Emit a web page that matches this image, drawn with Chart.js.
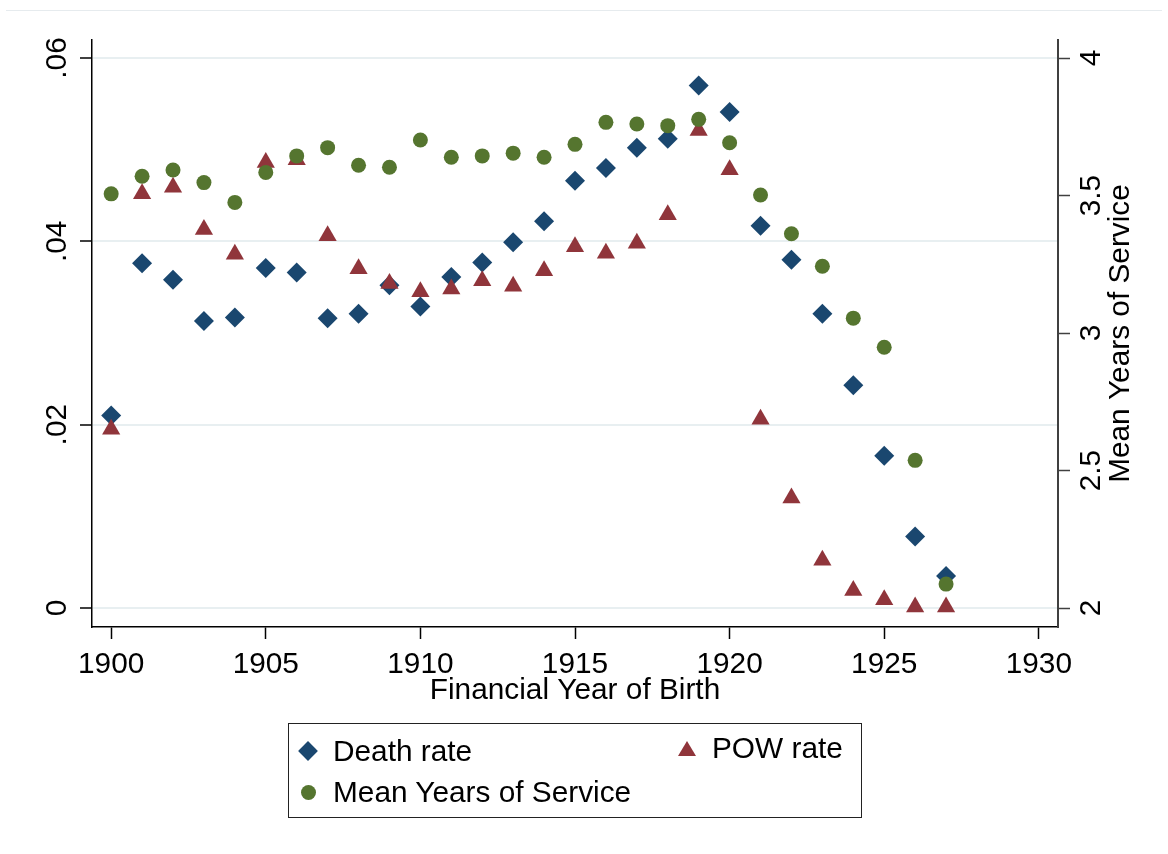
<!DOCTYPE html>
<html>
<head>
<meta charset="utf-8">
<title>Death rate, POW rate and Mean Years of Service by Financial Year of Birth</title>
<script src="https://cdn.jsdelivr.net/npm/chart.js@4.4.1/dist/chart.umd.min.js"></script>
<style>
  html, body { margin: 0; padding: 0; background: #fff; }
  #wrap { position: relative; width: 1168px; height: 854px; overflow: hidden; }
  #topline { position: absolute; left: 6px; right: 6px; top: 10px; border-top: 1px solid #e6ebee; }
  #chart { position: absolute; left: 0; top: 0; }
  #legend {
    position: absolute; left: 288px; top: 723px; width: 572px; height: 93px;
    border: 1px solid #222; font-family: "Liberation Sans", Arial, sans-serif; font-size: 29.8px; color: #000;
  }
  .item { position: absolute; display: flex; align-items: center; height: 36px; white-space: nowrap; }
  .mk { width: 24px; height: 24px; display: flex; align-items: center; justify-content: center; }
  .mk + span { margin-left: 13px; }
  .rectRot { width: 14px; height: 14px; transform: rotate(45deg); }
  .circle { width: 15px; height: 15px; border-radius: 50%; }
  .triangle { width: 0; height: 0; border-left: 9px solid transparent; border-right: 9px solid transparent; border-bottom: 15px solid; }
</style>
</head>
<body>
<div id="wrap">
  <div id="topline"></div>
  <canvas id="chart" width="1168" height="854"></canvas>
  <div id="legend"></div>
</div>
<script>
// Data
const years = [1900, 1901, 1902, 1903, 1904, 1905, 1906, 1907, 1908, 1909,
               1910, 1911, 1912, 1913, 1914, 1915, 1916, 1917, 1918, 1919,
               1920, 1921, 1922, 1923, 1924, 1925, 1926, 1927];
const deathRate = [0.0210, 0.0376, 0.0358, 0.0313, 0.0317, 0.0371, 0.0366, 0.0316, 0.0321, 0.0352,
                   0.0329, 0.0361, 0.0377, 0.0399, 0.0422, 0.0466, 0.0480, 0.0502, 0.0512, 0.0570,
                   0.0541, 0.0417, 0.0380, 0.0321, 0.0243, 0.0166, 0.0078, 0.0035];
const powRate = [0.0195, 0.0452, 0.0459, 0.0413, 0.0386, 0.0486, 0.0489, 0.0406, 0.0370, 0.0354,
                 0.0345, 0.0348, 0.0357, 0.0351, 0.0368, 0.0394, 0.0387, 0.0398, 0.0429, 0.0521,
                 0.0478, 0.0206, 0.0120, 0.0052, 0.0019, 0.0009, 0.0001, 0.0001];
const meanYears = [3.506, 3.570, 3.593, 3.547, 3.475, 3.584, 3.644, 3.674, 3.610, 3.603,
                   3.702, 3.639, 3.644, 3.654, 3.639, 3.686, 3.766, 3.760, 3.754, 3.777,
                   3.692, 3.502, 3.361, 3.243, 3.054, 2.948, 2.537, 2.087];

const xTicks = [1900, 1905, 1910, 1915, 1920, 1925, 1930];
const rateTicks = [0, 0.02, 0.04, 0.06];
const yearsTicks = [2, 2.5, 3, 3.5, 4];

const xTitle = 'Financial Year of Birth';
const rightTitle = 'Mean Years of Service';

const FONT = '29.8px "Liberation Sans", Arial, sans-serif';
const NAVY = '#1a476f', MAROON = '#90353b', GREEN = '#55752f';

const pts = vals => vals.map((v, i) => ({ x: years[i], y: v }));
const fmtRate = v => v === 0 ? '0' : String(v).replace(/^0/, '');

// Rotated y tick labels and axis titles (Stata look)
const axisText = {
  id: 'axisText',
  afterDraw(chart) {
    const { ctx, chartArea: a, scales } = chart;
    ctx.save();
    ctx.fillStyle = '#000';
    ctx.font = FONT;
    ctx.textAlign = 'center';
    ctx.textBaseline = 'middle';
    const vert = (txt, x, y) => {
      ctx.save();
      ctx.translate(x, y);
      ctx.rotate(-Math.PI / 2);
      ctx.fillText(txt, 0, 0);
      ctx.restore();
    };
    scales.y.ticks.forEach(t => vert(fmtRate(t.value), a.left - 34.5, scales.y.getPixelForValue(t.value)));
    scales.y1.ticks.forEach(t => vert(String(t.value), a.right + 34, scales.y1.getPixelForValue(t.value)));
    vert(rightTitle, a.right + 63, (a.top + a.bottom) / 2);
    ctx.fillText(xTitle, (a.left + a.right) / 2, a.bottom + 64);
    ctx.restore();
  }
};

const chart = new Chart(document.getElementById('chart'), {
  type: 'scatter',
  data: {
    datasets: [
      { label: 'Death rate', data: pts(deathRate), yAxisID: 'y', order: 2,
        pointStyle: 'rectRot', pointRadius: 10, backgroundColor: NAVY, borderColor: NAVY, borderWidth: 0 },
      { label: 'POW rate', data: pts(powRate), yAxisID: 'y', order: 1,
        pointStyle: 'triangle', pointRadius: 10.5, backgroundColor: MAROON, borderColor: MAROON, borderWidth: 0 },
      { label: 'Mean Years of Service', data: pts(meanYears), yAxisID: 'y1', order: 0,
        pointStyle: 'circle', pointRadius: 7.5, backgroundColor: GREEN, borderColor: GREEN, borderWidth: 0 }
    ]
  },
  options: {
    responsive: false,
    animation: false,
    layout: { padding: { top: 40, left: 0, right: 0, bottom: 0 } },
    plugins: { legend: { display: false }, tooltip: { enabled: false } },
    scales: {
      x: {
        type: 'linear', min: 1899.38, max: 1930.62,
        afterBuildTicks: s => { s.ticks = xTicks.map(value => ({ value })); },
        afterFit: s => { s.height = 227; },
        grid: { drawOnChartArea: false, drawTicks: true, tickLength: 12, tickColor: '#000', tickWidth: 1.5 },
        border: { display: true, color: '#000', width: 1.5 },
        ticks: { color: '#000', font: { family: '"Liberation Sans", Arial, sans-serif', size: 29.8 }, padding: 8,
                 maxRotation: 0, callback: v => String(v) }
      },
      y: {
        type: 'linear', position: 'left', min: -0.00207, max: 0.06196,
        afterBuildTicks: s => { s.ticks = rateTicks.map(value => ({ value })); },
        afterFit: s => { s.width = 92; },
        grid: { color: '#e8eff1', lineWidth: 2, drawTicks: true, tickLength: 12, tickColor: '#000', tickWidth: 1.5 },
        border: { display: true, color: '#000', width: 1.5 },
        ticks: { display: false }
      },
      y1: {
        type: 'linear', position: 'right', min: 1.931, max: 4.0655,
        afterBuildTicks: s => { s.ticks = yearsTicks.map(value => ({ value })); },
        afterFit: s => { s.width = 110; },
        grid: { drawOnChartArea: false, drawTicks: true, tickLength: 12, tickColor: '#404040', tickWidth: 1.5 },
        border: { display: true, color: '#404040', width: 2 },
        ticks: { display: false }
      }
    }
  },
  plugins: [axisText]
});

// HTML legend built from the chart's datasets (slot positions inside the box)
const legendSlots = [
  { left: 7, top: 9 },    // Death rate
  { left: 386, top: 6 },  // POW rate
  { left: 7, top: 50 }    // Mean Years of Service
];
const legendEl = document.getElementById('legend');
legendEl.innerHTML = chart.data.datasets.map((ds, i) => {
  const col = ds.backgroundColor;
  const shape = ds.pointStyle === 'triangle'
    ? `<i class="triangle" style="border-bottom-color:${col}"></i>`
    : `<i class="${ds.pointStyle}" style="background:${col}"></i>`;
  return `<div class="item" style="left:${legendSlots[i].left}px;top:${legendSlots[i].top}px">
      <span class="mk">${shape}</span><span>${ds.label}</span></div>`;
}).join('');
</script>
</body>
</html>
